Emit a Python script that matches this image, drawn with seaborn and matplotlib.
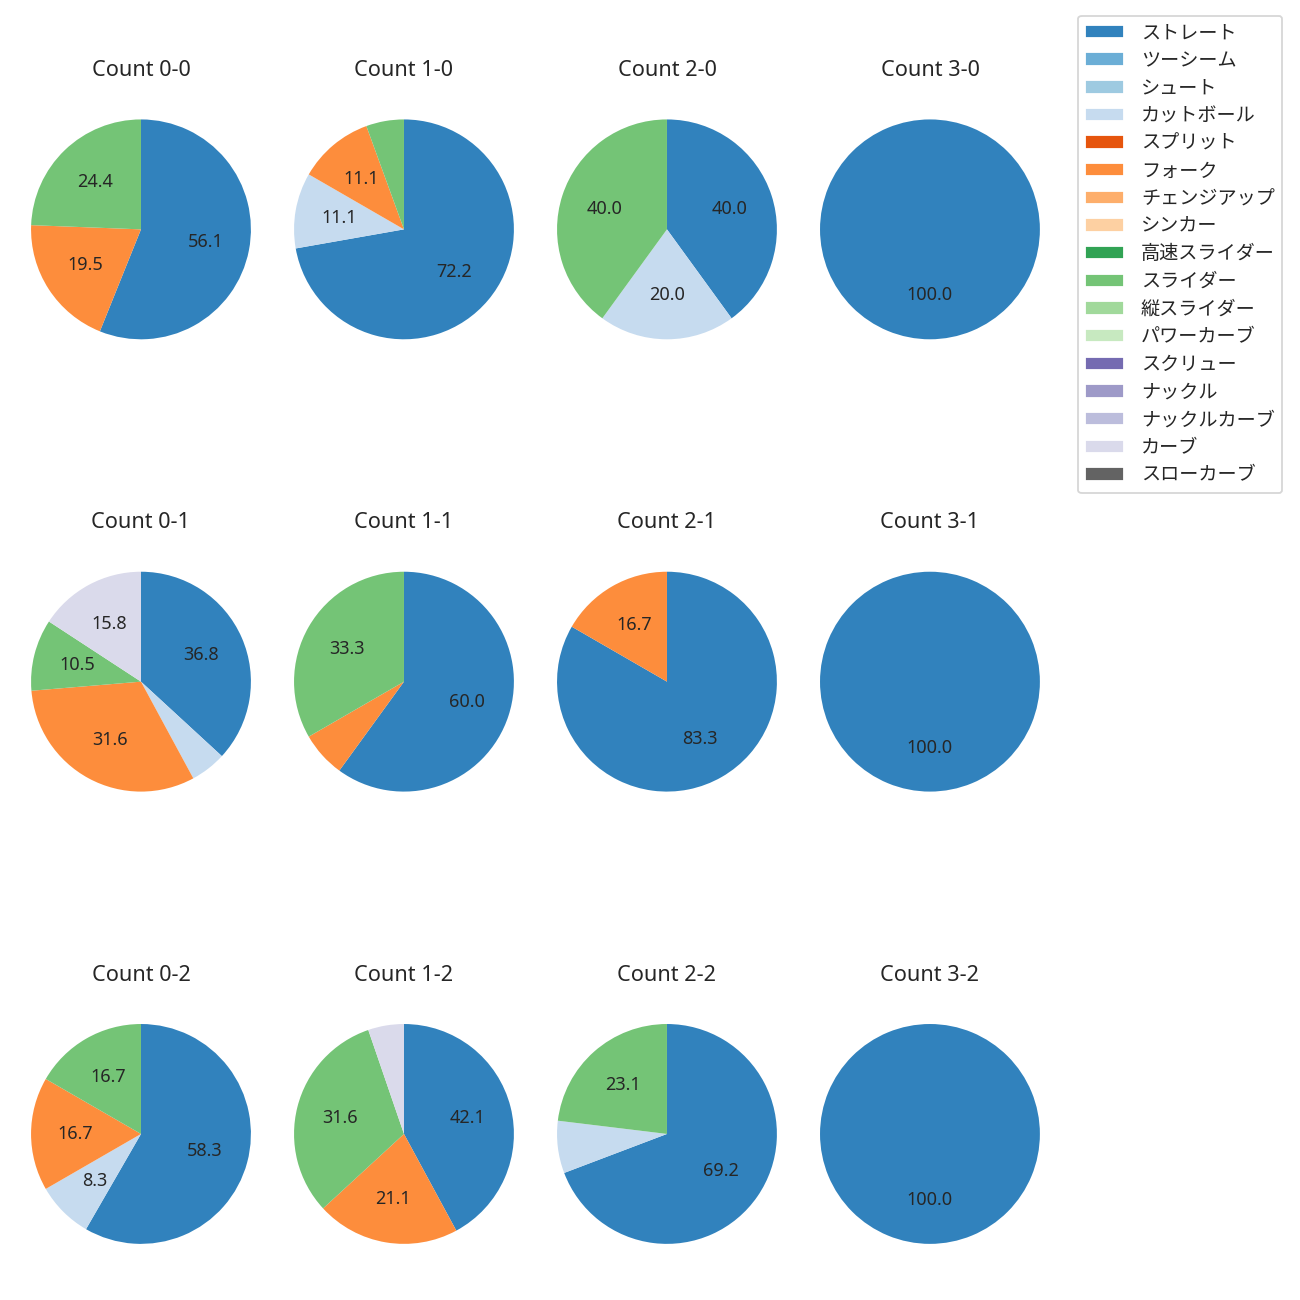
import matplotlib
matplotlib.use("Agg")
import matplotlib.pyplot as plt
from matplotlib.patches import Patch
import seaborn as sns

# 球種 (凡例の順番)
pitch_types = ["ストレート", "ツーシーム", "シュート", "カットボール", "スプリット", "フォーク",
               "チェンジアップ", "シンカー", "高速スライダー", "スライダー", "縦スライダー",
               "パワーカーブ", "スクリュー", "ナックル", "ナックルカーブ", "カーブ", "スローカーブ"]

# カウント別の投球数 (球種順)
count_labels = ["0-0", "1-0", "2-0", "3-0",
                "0-1", "1-1", "2-1", "3-1",
                "0-2", "1-2", "2-2", "3-2"]
pitch_counts = [
    [23, 0, 0, 0, 0, 8, 0, 0, 0, 10, 0, 0, 0, 0, 0, 0, 0],
    [13, 0, 0, 2, 0, 2, 0, 0, 0, 1, 0, 0, 0, 0, 0, 0, 0],
    [2, 0, 0, 1, 0, 0, 0, 0, 0, 2, 0, 0, 0, 0, 0, 0, 0],
    [1, 0, 0, 0, 0, 0, 0, 0, 0, 0, 0, 0, 0, 0, 0, 0, 0],
    [7, 0, 0, 1, 0, 6, 0, 0, 0, 2, 0, 0, 0, 0, 0, 3, 0],
    [9, 0, 0, 0, 0, 1, 0, 0, 0, 5, 0, 0, 0, 0, 0, 0, 0],
    [5, 0, 0, 0, 0, 1, 0, 0, 0, 0, 0, 0, 0, 0, 0, 0, 0],
    [1, 0, 0, 0, 0, 0, 0, 0, 0, 0, 0, 0, 0, 0, 0, 0, 0],
    [7, 0, 0, 1, 0, 2, 0, 0, 0, 2, 0, 0, 0, 0, 0, 0, 0],
    [8, 0, 0, 0, 0, 4, 0, 0, 0, 6, 0, 0, 0, 0, 0, 1, 0],
    [9, 0, 0, 1, 0, 0, 0, 0, 0, 3, 0, 0, 0, 0, 0, 0, 0],
    [1, 0, 0, 0, 0, 0, 0, 0, 0, 0, 0, 0, 0, 0, 0, 0, 0],
]

sns.set_style("white")
plt.rcParams['font.family'] = ['Noto Sans', 'Noto Sans CJK JP', 'DejaVu Sans']

colors = sns.color_palette("tab20c", 20)[:len(pitch_types)]

fig, axes = plt.subplots(3, 4, figsize=(10, 10))
fig.subplots_adjust(left=0.0073, right=0.8165, bottom=0.0123, top=0.939, wspace=0.0, hspace=0.507)

for ax, label, counts in zip(axes.flat, count_labels, pitch_counts):
    vals = [c for c in counts if c > 0]
    cols = [colors[i] for i, c in enumerate(counts) if c > 0]
    ax.pie(vals, colors=cols, startangle=90, counterclock=False, radius=1.045,
           wedgeprops={"linewidth": 0},
           autopct=lambda p: f"{p:.1f}" if p >= 8 else "")
    ax.set_title(f"Count {label}", fontsize=12, pad=12)

handles = [Patch(facecolor=c) for c in colors]
fig.legend(handles, pitch_types, loc="upper right", bbox_to_anchor=(0.9938, 0.9954),
           fontsize=10.6, labelspacing=0.40, handletextpad=0.9)

fig.savefig("out.png", dpi=130)
